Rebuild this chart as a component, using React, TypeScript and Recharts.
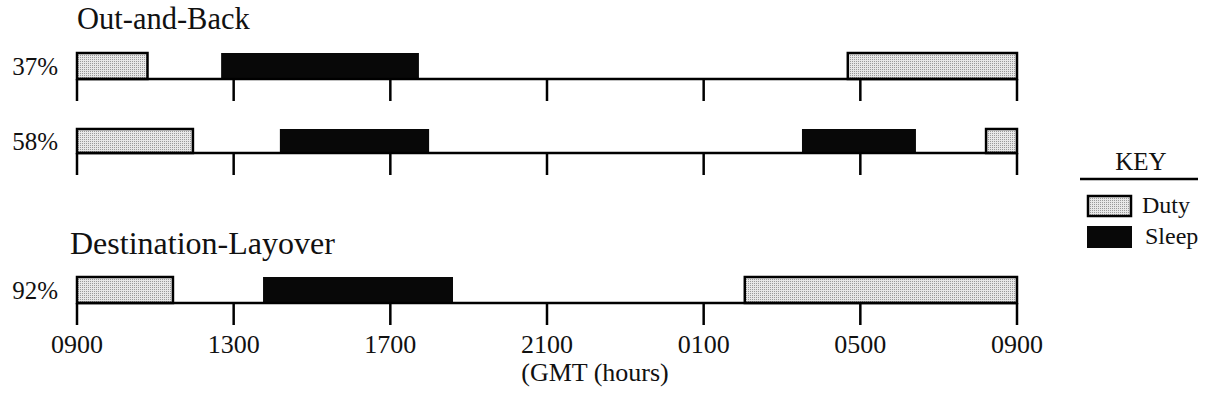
import { BarChart, Bar, XAxis, YAxis, Label } from "recharts";

// Hours after 0900 GMT, one day across.
const HOUR_TICKS = [0, 4, 8, 12, 16, 20, 24];
const TICK_LABELS = ["0900", "1300", "1700", "2100", "0100", "0500", "0900"];

const ROW_LABELS = ["37%", "58%", "92%"];

// [start, end] in hours after 0900
const ROW_37_DUTY: [number, number][] = [
  [0, 1.8],
  [19.68, 24],
];
const ROW_37_SLEEP: [number, number][] = [[3.68, 8.73]];

const ROW_58_DUTY: [number, number][] = [
  [0, 2.96],
  [23.21, 24],
];
const ROW_58_SLEEP: [number, number][] = [
  [5.18, 8.99],
  [18.51, 21.42],
];

const ROW_92_DUTY: [number, number][] = [
  [0, 2.45],
  [17.05, 24],
];
const ROW_92_SLEEP: [number, number][] = [[4.75, 9.6]];

const SERIF = "Liberation Serif, Times New Roman, serif";
const INK = "#111";
const CHART_W = 1208;
const PLOT_LEFT = 77;
const PLOT_RIGHT = 1017;
const TOP_PAD = 4;

function Timeline({
  label,
  duty,
  sleep,
  plotTop,
  bandH,
  showLabels,
}: {
  label: string;
  duty: [number, number][];
  sleep: [number, number][];
  plotTop: number;
  bandH: number;
  showLabels?: boolean;
}) {
  const row: Record<string, unknown> = { label };
  duty.forEach((d, i) => (row[`duty${i}`] = d));
  sleep.forEach((s, i) => (row[`sleep${i}`] = s));
  const axisH = showLabels ? 84 : 24;

  return (
    <div style={{ position: "absolute", left: 0, top: plotTop - TOP_PAD }}>
      <BarChart
        width={CHART_W}
        height={TOP_PAD + bandH + axisH}
        data={[row]}
        layout="vertical"
        margin={{ top: TOP_PAD, right: CHART_W - PLOT_RIGHT, bottom: 0, left: 0 }}
        barCategoryGap={0}
        barGap="-100%"
        style={{ fontFamily: SERIF }}
      >
        <YAxis
          type="category"
          dataKey="label"
          width={PLOT_LEFT}
          axisLine={false}
          tickLine={false}
          tickSize={0}
          tickMargin={19}
          tick={{ fill: INK, fontSize: 25, style: { fontFamily: SERIF } }}
        />
        <XAxis
          type="number"
          domain={[0, 24]}
          ticks={HOUR_TICKS}
          interval={0}
          height={axisH}
          tickSize={22}
          tickMargin={9.5}
          axisLine={{ stroke: "#000", strokeWidth: 2.5 }}
          tickLine={{ stroke: "#000", strokeWidth: 2.5 }}
          tick={{ fill: INK, fontSize: 26, style: { fontFamily: SERIF } }}
          tickFormatter={(v: number) =>
            showLabels ? TICK_LABELS[HOUR_TICKS.indexOf(v)] : ""
          }
        >
          {showLabels && (
            <Label
              value="(GMT (hours)"
              position="insideBottom"
              offset={6}
              dx={48}
              style={{ fill: INK, fontSize: 26, fontFamily: SERIF }}
            />
          )}
        </XAxis>
        {sleep.map((_, i) => (
          <Bar
            key={`s${i}`}
            dataKey={`sleep${i}`}
            fill="#080808"
            isAnimationActive={false}
          />
        ))}
        {duty.map((_, i) => (
          <Bar
            key={`d${i}`}
            dataKey={`duty${i}`}
            fill="url(#stipple)"
            stroke="#000"
            strokeWidth={2.5}
            isAnimationActive={false}
          />
        ))}
      </BarChart>
    </div>
  );
}

export default function App() {
  return (
    <div
      style={{
        position: "absolute",
        left: 0,
        top: 0,
        width: 1208,
        height: 410,
        background: "#fff",
        overflow: "hidden",
      }}
    >
      <svg width={0} height={0} style={{ position: "absolute" }}>
        <defs>
          <pattern id="stipple" width={2} height={2} patternUnits="userSpaceOnUse">
            <rect width={2} height={2} fill="#e8e8e8" />
            <rect width={1} height={1} fill="#9a9a9a" />
          </pattern>
        </defs>
      </svg>

      <svg
        width={1208}
        height={410}
        style={{ position: "absolute", left: 0, top: 0, fontFamily: SERIF }}
        fill={INK}
      >
        <text x={77} y={29} fontSize={30.5}>
          Out-and-Back
        </text>
        <text x={70} y={254} fontSize={32}>
          Destination-Layover
        </text>
        <text x={1141} y={170} fontSize={25} textAnchor="middle">
          KEY
        </text>
        <line x1={1080} x2={1198} y1={179} y2={179} stroke="#000" strokeWidth={2.5} />
        <rect
          x={1088}
          y={196}
          width={43}
          height={20}
          fill="url(#stipple)"
          stroke="#000"
          strokeWidth={2.5}
        />
        <text x={1142} y={213} fontSize={24}>
          Duty
        </text>
        <rect x={1087} y={226} width={45} height={22} fill="#080808" />
        <text x={1145} y={244} fontSize={24}>
          Sleep
        </text>
      </svg>

      <Timeline label={ROW_LABELS[0]} duty={ROW_37_DUTY} sleep={ROW_37_SLEEP} plotTop={53} bandH={26} />
      <Timeline label={ROW_LABELS[1]} duty={ROW_58_DUTY} sleep={ROW_58_SLEEP} plotTop={129} bandH={24} />
      <Timeline
        label={ROW_LABELS[2]}
        duty={ROW_92_DUTY}
        sleep={ROW_92_SLEEP}
        plotTop={277}
        bandH={26}
        showLabels
      />
    </div>
  );
}
